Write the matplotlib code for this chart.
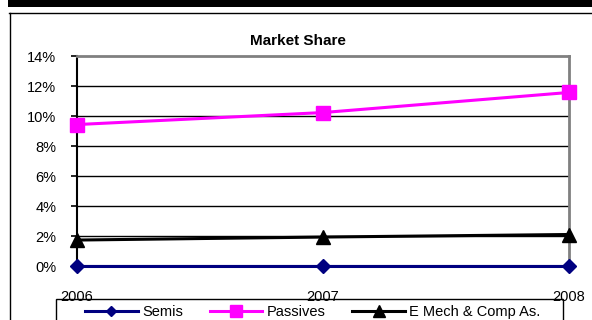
import matplotlib.pyplot as plt
from matplotlib.patches import Rectangle
from matplotlib.lines import Line2D

plt.rcParams['font.family'] = ['Liberation Sans', 'DejaVu Sans']

# data
years = [2006, 2007, 2008]
semis = [0.0, 0.0, 0.0]
passives = [9.43, 10.23, 11.57]
emech = [1.73, 1.93, 2.1]
yticks = [0, 2, 4, 6, 8, 10, 12, 14]

W, H = 592, 320
fig = plt.figure(figsize=(W / 100, H / 100), dpi=100)

# frame bits around the chart (it was cut from a bigger sheet)
fig.patches.append(Rectangle((8 / W, 1 - 7 / H), 1, 7 / H, transform=fig.transFigure,
                             facecolor='black', edgecolor='none'))
fig.lines.append(Line2D([9 / W, 1], [1 - 12.5 / H, 1 - 12.5 / H], transform=fig.transFigure,
                        color='black', lw=1.0))
fig.lines.append(Line2D([9.5 / W, 9.5 / W], [0, 1 - 12.5 / H], transform=fig.transFigure,
                        color='black', lw=1.0))

ax = fig.add_axes([77 / W, 1 - 266 / H, (569 - 77) / W, (266 - 56) / H])

for y in yticks[1:-1]:
    ax.axhline(y, color='black', lw=1.0, zorder=1)

ax.plot(years, semis, color='#000080', lw=2.2, marker='D', ms=7, zorder=3,
        clip_on=False, label='Semis')
ax.plot(years, passives, color='#FF00FF', lw=2.2, marker='s', ms=10, zorder=3,
        clip_on=False, label='Passives')
ax.plot(years, emech, color='black', lw=2.2, marker='^', ms=10, zorder=3,
        clip_on=False, label='E Mech & Comp As.')

ax.set_xlim(2006, 2008)
ax.set_ylim(0, 14)
ax.set_xticks(years)
ax.set_xticklabels([str(y) for y in years])
ax.set_yticks(yticks)
ax.set_yticklabels([f'{y}%' for y in yticks])
ax.tick_params(axis='y', direction='out', length=4, width=1.2, pad=11, labelsize=10.5)
ax.tick_params(axis='x', length=0, pad=17, labelsize=10.5)

for s in ['top', 'right']:
    ax.spines[s].set_color('#808080')
    ax.spines[s].set_linewidth(2)
ax.spines['left'].set_color('black')
ax.spines['left'].set_linewidth(1.5)
ax.spines['bottom'].set_color('#000080')
ax.spines['bottom'].set_linewidth(1.5)
for s in ax.spines.values():
    s.set_zorder(2)

fig.text(298 / W, 1 - 41 / H, 'Market Share', ha='center', va='center',
         fontsize=11, fontweight='bold')

# legend box runs off the bottom of the picture
fig.patches.append(Rectangle((56 / W, -0.1), (563 - 56) / W, 1 - 299 / H + 0.1,
                             transform=fig.transFigure, facecolor='none',
                             edgecolor='black', lw=1.0))
leg = fig.legend(loc='upper left', bbox_to_anchor=(85 / W, 1 - 305 / H), ncol=3,
                 fontsize=10.5, frameon=False, handlelength=3.6, handletextpad=0.3,
                 columnspacing=1.85, borderpad=0, borderaxespad=0, markerscale=0.8)

fig.savefig('out.png', dpi=100)
